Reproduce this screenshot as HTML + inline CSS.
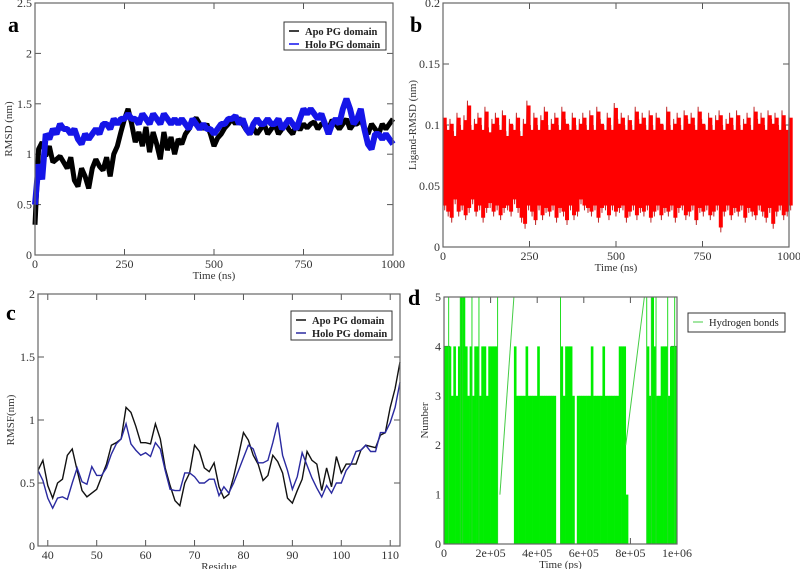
<!DOCTYPE html>
<html><head><meta charset="utf-8">
<style>
html,body{margin:0;padding:0;background:#fff;}
svg{display:block;font-family:"Liberation Serif",serif;}
</style></head>
<body>
<svg id="fig" width="800" height="569" viewBox="0 0 800 569" xmlns="http://www.w3.org/2000/svg"></svg>
<script>
// ---- Panel a data (RMSD, every 10 ns) ----
const aTime = Array.from({length:101},(_,i)=>i*10);
const aApo = [0.3,1.05,1.12,0.98,1.08,0.92,0.95,0.98,0.92,0.86,0.97,0.74,0.68,0.86,0.78,0.66,0.86,0.95,0.88,0.84,0.97,0.78,1.0,1.08,1.22,1.35,1.45,1.3,1.12,1.22,1.08,1.27,1.02,1.22,1.1,0.95,1.22,1.04,1.17,1.0,1.15,1.1,1.2,1.25,1.32,1.36,1.3,1.25,1.3,1.2,1.08,1.16,1.2,1.26,1.3,1.35,1.3,1.36,1.3,1.24,1.2,1.26,1.2,1.25,1.3,1.2,1.25,1.3,1.2,1.25,1.3,1.24,1.2,1.3,1.24,1.3,1.26,1.3,1.32,1.25,1.3,1.3,1.25,1.34,1.3,1.25,1.3,1.35,1.25,1.3,1.3,1.35,1.25,1.2,1.3,1.25,1.2,1.3,1.25,1.3,1.35];
const aHolo = [0.5,0.9,0.75,1.2,1.15,1.25,1.2,1.3,1.25,1.25,1.2,1.25,1.15,1.1,1.2,1.15,1.2,1.25,1.2,1.3,1.3,1.25,1.35,1.3,1.35,1.35,1.4,1.35,1.35,1.3,1.4,1.35,1.3,1.4,1.35,1.3,1.4,1.35,1.3,1.35,1.3,1.35,1.3,1.25,1.35,1.3,1.25,1.3,1.25,1.25,1.2,1.25,1.3,1.3,1.35,1.35,1.38,1.3,1.35,1.25,1.2,1.3,1.35,1.3,1.3,1.35,1.3,1.3,1.35,1.25,1.3,1.35,1.3,1.25,1.35,1.45,1.4,1.45,1.4,1.35,1.4,1.3,1.2,1.3,1.35,1.3,1.45,1.55,1.45,1.3,1.35,1.45,1.25,1.1,1.05,1.2,1.2,1.15,1.2,1.15,1.1];
const aXTicks = [0,250,500,750,1000];
const aYTicks = [0,0.5,1,1.5,2,2.5];
const aYLabels = ["0","0.5","1","1.5","2","2.5"];
// ---- Panel b data (ligand RMSD, high/low per 10 ns) ----
const bHigh = [0.11,0.1,0.105,0.095,0.11,0.1,0.108,0.12,0.1,0.105,0.11,0.1,0.115,0.098,0.105,0.11,0.1,0.112,0.095,0.105,0.1,0.11,0.095,0.105,0.12,0.1,0.11,0.1,0.108,0.115,0.1,0.105,0.11,0.1,0.115,0.105,0.1,0.11,0.1,0.105,0.11,0.1,0.112,0.1,0.115,0.105,0.1,0.11,0.1,0.118,0.105,0.11,0.1,0.108,0.1,0.115,0.105,0.11,0.1,0.112,0.1,0.11,0.105,0.1,0.115,0.1,0.105,0.11,0.1,0.112,0.105,0.11,0.1,0.115,0.105,0.1,0.11,0.1,0.108,0.112,0.1,0.105,0.11,0.1,0.112,0.1,0.105,0.11,0.1,0.115,0.105,0.11,0.1,0.112,0.105,0.11,0.1,0.112,0.1,0.11];
const bLow = [0.03,0.025,0.02,0.035,0.025,0.03,0.022,0.028,0.035,0.025,0.03,0.02,0.028,0.032,0.025,0.03,0.022,0.028,0.03,0.025,0.035,0.028,0.02,0.015,0.03,0.025,0.018,0.03,0.022,0.028,0.025,0.03,0.02,0.028,0.025,0.018,0.03,0.022,0.025,0.035,0.03,0.028,0.025,0.03,0.02,0.028,0.03,0.022,0.03,0.025,0.028,0.03,0.02,0.025,0.03,0.022,0.028,0.025,0.03,0.02,0.025,0.03,0.022,0.028,0.025,0.03,0.02,0.028,0.03,0.022,0.025,0.03,0.018,0.028,0.025,0.03,0.022,0.025,0.03,0.012,0.025,0.03,0.022,0.028,0.025,0.03,0.02,0.028,0.025,0.022,0.03,0.025,0.02,0.028,0.015,0.025,0.03,0.022,0.025,0.03];
const bXTicks = [0,250,500,750,1000];
const bYTicks = [0,0.05,0.1,0.15,0.2];
const bYLabels = ["0","0.05","0.1","0.15","0.2"];
// ---- Panel c data (RMSF per residue 38..112) ----
const cResidues = Array.from({length:75},(_,i)=>38+i);
const cApo = [0.6,0.68,0.48,0.38,0.5,0.53,0.72,0.77,0.6,0.44,0.39,0.42,0.45,0.55,0.65,0.8,0.82,0.85,1.1,1.06,0.95,0.82,0.82,0.81,0.97,0.85,0.62,0.48,0.36,0.32,0.5,0.58,0.8,0.75,0.62,0.59,0.66,0.47,0.38,0.41,0.55,0.72,0.9,0.84,0.72,0.65,0.52,0.56,0.72,0.67,0.58,0.38,0.34,0.44,0.53,0.75,0.68,0.65,0.44,0.62,0.47,0.71,0.58,0.65,0.65,0.65,0.76,0.8,0.79,0.78,0.88,0.9,1.1,1.25,1.46];
const cHolo = [0.6,0.52,0.38,0.3,0.38,0.39,0.37,0.5,0.62,0.51,0.49,0.63,0.56,0.56,0.62,0.73,0.81,0.85,0.97,0.81,0.76,0.72,0.74,0.71,0.82,0.77,0.6,0.45,0.44,0.44,0.58,0.58,0.55,0.5,0.5,0.53,0.53,0.4,0.47,0.42,0.5,0.6,0.7,0.8,0.77,0.66,0.66,0.68,0.82,0.98,0.72,0.6,0.45,0.55,0.74,0.64,0.54,0.46,0.39,0.48,0.42,0.5,0.5,0.6,0.65,0.75,0.76,0.8,0.75,0.75,0.9,0.9,0.98,1.1,1.3];
const cXTicks = [40,50,60,70,80,90,100,110];
const cYTicks = [0,0.5,1,1.5,2];
const cYLabels = ["0","0.5","1","1.5","2"];
// ---- Panel d data (hydrogen bonds per 1e4 ps bin) ----
const dBins = [4,4,4,3,4,3,4,5,5,4, 3,4,3,4,4,3,4,4,3,4, 4,4,4,0,0,0,0,0,0,0, 4,3,3,3,3,4,3,3,3,3, 4,3,3,3,3,3,3,3,0,0, 4,3,4,4,4,3,0,3,3,3, 3,3,3,4,3,3,3,3,4,3, 3,3,3,3,3,4,4,4,1,0, 0,0,0,0,0,0,0,4,3,5, 4,3,3,4,4,4,3,4,4,4];
const dSpikes = [20000,70000,80000,120000,150000,230000,500000,870000,890000,910000,960000,990000];
const dXTicks = [0,200000,400000,600000,800000,1000000];
const dXLabels = ["0","2e+05","4e+05","6e+05","8e+05","1e+06"];
const dYTicks = [0,1,2,3,4,5];

const NS="http://www.w3.org/2000/svg";
const svg=document.getElementById('fig');
function el(tag,attrs,parent){const e=document.createElementNS(NS,tag);for(const k in attrs)e.setAttribute(k,attrs[k]);(parent||svg).appendChild(e);return e;}
function scale(d0,d1,r0,r1){return v=>r0+(v-d0)/(d1-d0)*(r1-r0);}

function panel(p){
  const g=el('g',{});
  
  
  const x=scale(p.xd[0],p.xd[1],p.L,p.R), y=scale(p.yd[0],p.yd[1],p.B,p.T);
  p.xt.forEach((t,i)=>{
    const tk=el('line',{x1:x(t),x2:x(t),y1:p.B,y2:p.B-6,stroke:'#555','stroke-width':1},g);
    
    
    el('line',{x1:x(t),x2:x(t),y1:p.T,y2:p.T+6,stroke:'#555','stroke-width':1},g);
    const tx=el('text',{x:x(t),y:p.B+13,'text-anchor':'middle','font-size':12,fill:'#333'},g);
    tx.textContent=p.xl?p.xl[i]:String(t);
    
    
  });
  p.yt.forEach((t,i)=>{
    el('line',{x1:p.L,x2:p.L+6,y1:y(t),y2:y(t),stroke:'#555','stroke-width':1},g);
    el('line',{x1:p.R,x2:p.R-6,y1:y(t),y2:y(t),stroke:'#555','stroke-width':1},g);
    const tx=el('text',{x:p.L-3,y:y(t)+4,'text-anchor':'end','font-size':12,fill:'#333'},g);
    tx.textContent=p.yl?p.yl[i]:String(t);
    
    
  });
  const xt=el('text',{x:(p.L+p.R)/2,y:p.B+24,'text-anchor':'middle','font-size':11,fill:'#333'},g);
  xt.textContent=p.xtitle;
  
  
  const yx=p.ytx, yy=(p.T+p.B)/2;
  const yt=el('text',{x:yx,y:yy,'text-anchor':'middle','font-size':11,fill:'#333',transform:`rotate(-90 ${yx} ${yy})`},g);
  yt.textContent=p.ytitle;
  
  
  const lab=el('text',{x:p.lx,y:p.ly,'font-size':22,'font-weight':'bold',fill:'#000'},g);
  lab.textContent=p.letter;
  
  
  return {g,x,y};
}
function frame(p,g){
  const r=el('rect',{x:p.L,y:p.T,width:p.R-p.L,height:p.B-p.T,fill:'none',stroke:'#666','stroke-width':1.2},g);
  
  
}
function legend(g,x0,y0,w,h,items){
  const lg=el('g',{},g);
  
  
  el('rect',{x:x0,y:y0,width:w,height:h,fill:'#fff',stroke:'#333','stroke-width':1},lg);
  items.forEach((it,i)=>{
    const yy=y0+9+i*13;
    el('line',{x1:x0+5,x2:x0+15,y1:yy,y2:yy,stroke:it.c,'stroke-width':it.w||1.5},lg);
    const t=el('text',{x:x0+21,y:yy+4,'font-size':10.5,'font-weight':it.b?'bold':'normal',fill:'#222'},lg);
    t.textContent=it.t;
    
    
  });
}

// Panel a
const pa={name:'panel-a-rmsd',L:35,R:393,T:3,B:255,xd:[0,1000],yd:[0,2.5],xt:aXTicks,yt:aYTicks,yl:aYLabels,xtitle:'Time (ns)',ytitle:'RMSD (nm)',ytx:12,letter:'a',lx:8,ly:32};
let A=panel(pa);
let s=el('polyline',{points:aTime.map((t,i)=>A.x(t)+','+A.y(aApo[i])).join(' '),fill:'none',stroke:'#000','stroke-width':5,'stroke-linejoin':'bevel'},A.g);


s=el('polyline',{points:aTime.map((t,i)=>A.x(t)+','+A.y(aHolo[i])).join(' '),fill:'none',stroke:'#1515e8','stroke-width':6,'stroke-linejoin':'bevel'},A.g);


frame(pa,A.g);
legend(A.g,284,22,102,28,[{c:'#000',t:'Apo PG domain',b:1},{c:'#1010ee',t:'Holo PG domain',b:1}]);

// Panel b
const pb={name:'panel-b-ligand-rmsd',L:443,R:789,T:3,B:247,xd:[0,1000],yd:[0,0.2],xt:bXTicks,yt:bYTicks,yl:bYLabels,xtitle:'Time (ns)',ytitle:'Ligand-RMSD (nm)',ytx:416,letter:'b',lx:410,ly:32};
let B=panel(pb);
const bPts=[];
bHigh.forEach((h,i)=>{const t=i*1000/(bHigh.length-1);bPts.push(B.x(t)+','+B.y(h));bPts.push((B.x(t)+1.7)+','+B.y(bLow[i]));});
s=el('polyline',{points:bPts.join(' '),fill:'none',stroke:'#c03030','stroke-width':1},B.g);


bHigh.forEach((h,i)=>{const t=i*1000/(bHigh.length-1);
  const r=el('rect',{x:B.x(t)-0.3,y:B.y(h-0.004),width:4,height:B.y(bLow[i]+0.004)-B.y(h-0.004),fill:'#ff0000'},B.g);
  
  
});
frame(pb,B.g);

// Panel c
const pc={name:'panel-c-rmsf',L:38,R:400,T:294,B:546,xd:[38,112],yd:[0,2],xt:cXTicks,yt:cYTicks,yl:cYLabels,xtitle:'Residue',ytitle:'RMSF(nm)',ytx:14,letter:'c',lx:6,ly:320};
let C=panel(pc);
s=el('polyline',{points:cResidues.map((r,i)=>C.x(r)+','+C.y(cApo[i])).join(' '),fill:'none',stroke:'#111','stroke-width':1.4},C.g);


s=el('polyline',{points:cResidues.map((r,i)=>C.x(r)+','+C.y(cHolo[i])).join(' '),fill:'none',stroke:'#2a2aa0','stroke-width':1.4},C.g);


frame(pc,C.g);
legend(C.g,291,311,101,29,[{c:'#111',t:'Apo PG domain',b:1},{c:'#2a2aa0',t:'Holo PG domain',b:1}]);

// Panel d
const pd={name:'panel-d-hbonds',L:444,R:677,T:297,B:544,xd:[0,1000000],yd:[0,5],xt:dXTicks,xl:dXLabels,yt:dYTicks,xtitle:'Time (ps)',ytitle:'Number',ytx:428,letter:'d',lx:408,ly:305};
let D=panel(pd);
const bw=1000000/dBins.length;
dBins.forEach((v,i)=>{ if(v<=0) return;
  const r=el('rect',{x:D.x(i*bw),y:D.y(v),width:D.x(bw)-D.x(0)+0.3,height:D.y(0)-D.y(v),fill:'#00ee00'},D.g);
  
  
});
dSpikes.forEach(t=>{
  const l=el('line',{x1:D.x(t),x2:D.x(t),y1:D.y(0),y2:D.y(5),stroke:'#22dd22','stroke-width':1},D.g);
  
  
});
s=el('line',{x1:D.x(240000),y1:D.y(1),x2:D.x(300000),y2:D.y(5),stroke:'#44cc44','stroke-width':1},D.g);


s=el('line',{x1:D.x(780000),y1:D.y(2),x2:D.x(860000),y2:D.y(5),stroke:'#44cc44','stroke-width':1},D.g);


frame(pd,D.g);
legend(D.g,688,313,97,19,[{c:'#44cc44',t:'Hydrogen bonds',w:1}]);
</script>
</body></html>
